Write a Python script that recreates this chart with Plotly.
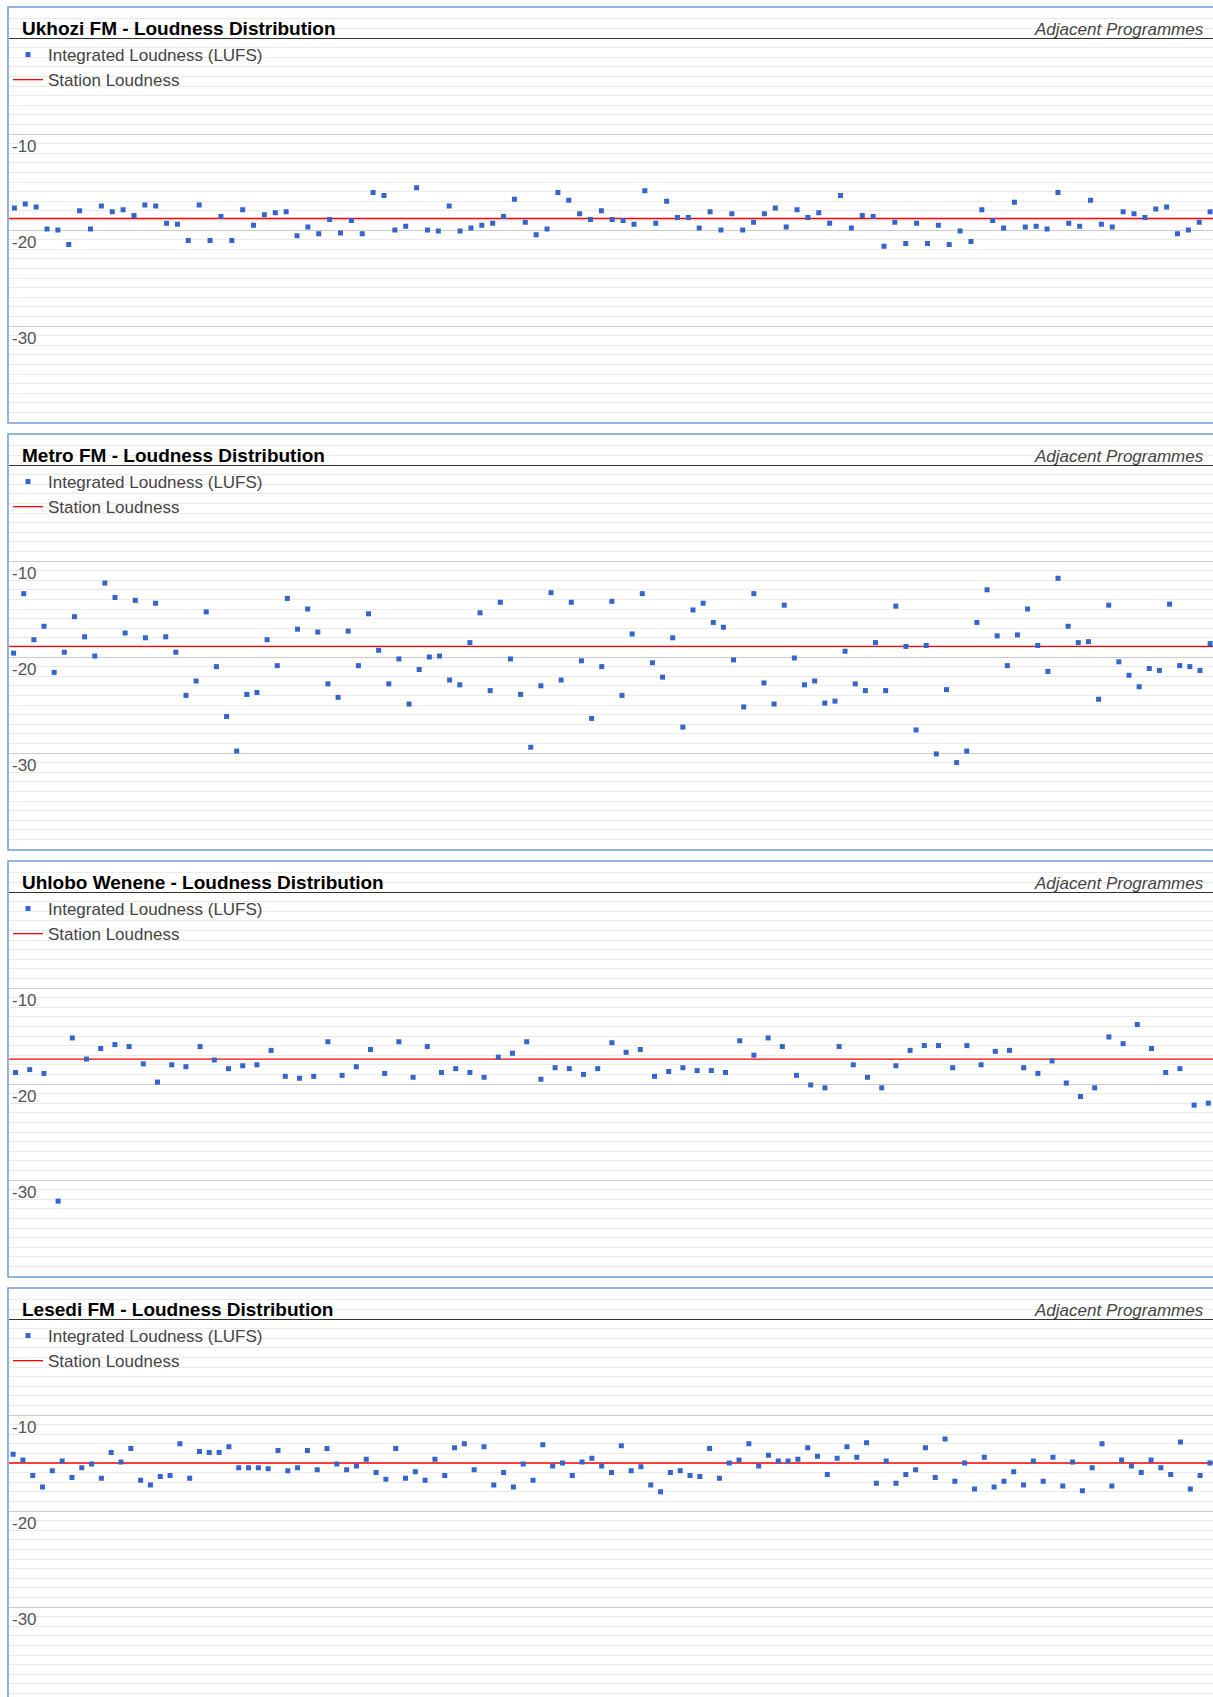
import plotly.graph_objects as go

# ---------------- data ----------------
stations = ["Ukhozi FM", "Metro FM", "Uhlobo Wenene", "Lesedi FM"]
title_suffix = " - Loudness Distribution"
subtitle = "Adjacent Programmes"
series_name = "Integrated Loudness (LUFS)"
line_name = "Station Loudness"

ukhozi_lufs = [
    -17.7, -17.3, -17.6, -19.9, -20.0, -21.5, -18.0, -19.9, -17.5, -18.1,
    -17.9, -18.5, -17.4, -17.5, -19.3, -19.4, -21.1, -17.4, -21.1, -18.6,
    -21.1, -17.9, -19.5, -18.4, -18.2, -18.1, -20.6, -19.7, -20.4, -18.9,
    -20.3, -19.0, -20.4, -16.1, -16.4, -20.0, -19.6, -15.6, -20.0, -20.1,
    -17.5, -20.1, -19.8, -19.5, -19.3, -18.6, -16.8, -19.2, -20.5, -19.9,
    -16.1, -16.9, -18.3, -18.9, -18.0,
    -18.9, -19.0, -19.4, -15.9, -19.3, -17.0, -18.7, -18.7, -19.8, -18.1,
    -20.0, -18.3, -20.0, -19.2, -18.3, -17.7, -19.7, -17.9, -18.7, -18.2,
    -19.3, -16.4, -19.8, -18.5, -18.6, -21.7, -19.2, -21.4, -19.3, -21.4,
    -19.5, -21.5, -20.1, -21.2, -17.9, -19.0, -19.8, -17.1, -19.7, -19.6,
    -19.9, -16.1, -19.3, -19.6, -16.9, -19.4, -19.7, -18.1, -18.3, -18.7,
    -17.8, -17.6, -20.4, -20.0, -19.2, -18.1,
]

metro_lufs = [
    -19.6, -13.4, -18.2, -16.8, -21.6, -19.5, -15.8, -17.9, -19.9, -12.3,
    -13.8, -17.5, -14.1, -18.0, -14.4, -17.9, -19.5, -24.0, -22.5, -15.3,
    -21.0, -26.2, -29.8, -23.9, -23.7, -18.2, -20.9, -13.9, -17.1, -15.0,
    -17.4, -22.8, -24.2, -17.3, -20.9, -15.5, -19.3, -22.8, -20.2, -24.9,
    -21.3, -20.0, -19.9, -22.4, -22.9, -18.5, -15.4, -23.5, -14.3, -20.2,
    -23.9, -29.4, -23.0, -13.3, -22.4, -14.3, -20.4, -26.4, -21.0,
    -14.2, -24.0, -17.6, -13.4, -20.6, -22.1, -18.0, -27.3, -15.1, -14.4,
    -16.4, -16.9, -20.3, -25.2, -13.4, -22.7, -24.9, -14.6, -20.1, -22.9,
    -22.5, -24.8, -24.6, -19.4, -22.8, -23.5, -18.5, -23.5, -14.7, -18.9,
    -27.6, -18.8, -30.1, -23.4, -31.0, -29.8, -16.4, -13.0, -17.8, -20.9,
    -17.7, -15.0, -18.8, -21.5, -11.8, -16.8, -18.5, -18.4, -24.4, -14.6,
    -20.5, -21.9, -23.1, -21.2, -21.4, -14.5, -20.9, -21.0, -21.4, -18.6,
]

uhlobo_lufs = [
    -18.8, -18.5, -18.9, -32.2, -15.2, -17.4, -16.3, -15.9, -16.1, -17.9,
    -19.8, -18.0, -18.2, -16.1, -17.5, -18.4, -18.1, -18.0, -16.5, -19.2,
    -19.4, -19.2, -15.6, -19.1, -18.2, -16.4, -18.9, -15.6, -19.3, -16.1,
    -18.8, -18.4, -18.8, -19.3, -17.2, -16.8, -15.6, -19.5, -18.3, -18.4,
    -19.0, -18.4, -15.7, -16.7, -16.4, -19.2, -18.7, -18.3, -18.6, -18.6,
    -18.8, -15.5, -17.0, -15.2, -16.1, -19.1, -20.1, -20.4, -16.1, -18.0,
    -19.3, -20.4, -18.1, -16.5, -16.0, -16.0, -18.3, -16.0, -18.0, -16.6,
    -16.5, -18.3, -18.9, -17.6, -19.9, -21.3, -20.4, -15.1, -15.8, -13.8,
    -16.3, -18.8, -18.4, -22.2, -22.0,
]

lesedi_lufs = [
    -14.1, -14.7, -16.3, -17.5, -15.8, -14.8, -16.5, -15.5, -15.1, -16.6,
    -13.9, -14.9, -13.5, -16.8, -17.3, -16.4, -16.3, -13.0, -16.6, -13.8,
    -13.9, -13.9, -13.3, -15.5, -15.5, -15.5, -15.6, -13.7, -15.8, -15.5,
    -13.7, -15.7, -13.5, -15.1, -15.7, -15.3, -14.6, -16.0, -16.7, -13.5,
    -16.6, -15.9, -16.8, -14.6, -16.3, -13.4, -13.0, -15.7, -13.3, -17.3,
    -16.0, -17.5, -15.1, -16.8, -13.1, -15.3, -15.0, -16.3, -14.9, -14.5,
    -15.3, -16.0, -13.2, -15.8, -15.4, -17.3, -18.0, -16.0, -15.8, -16.3,
    -16.4, -13.5, -16.6, -15.0, -14.7, -13.0, -15.3, -14.2, -14.8, -14.8,
    -14.6, -13.4, -14.3, -16.2, -14.5, -13.3, -14.4, -12.9, -17.1, -14.8,
    -17.1, -16.2, -15.7, -13.4, -16.5, -12.5, -16.9, -15.0, -17.7, -14.4,
    -17.5, -16.9, -15.9, -17.3, -14.8, -16.9, -14.4, -17.4, -14.9, -17.9,
    -15.5, -13.0, -17.4, -14.7, -15.3, -16.0, -14.7, -15.5, -16.2, -12.8,
    -17.7, -16.3, -15.0,
]

station_loudness = [-18.8, -18.9, -17.4, -15.0]
y_tick_vals = [-10, -20, -30]
y_tick_text = ["-10", "-20", "-30"]

series = [ukhozi_lufs, metro_lufs, uhlobo_lufs, lesedi_lufs]

# ---------------- layout constants (pixels) ----------------
W, H = 1213, 1697
STEP = 427            # vertical distance between panels
ZERO_PX = 38          # pixel row of 0 LUFS in the first panel
PPU = 9.6             # pixels per LU
Y_TOP, Y_BOT = 3, -40
PLOT_LEFT = 9
first_px = [14.4, 13.6, 15.5, 13.1]
spacing_px = [10.87, 10.14, 14.2, 9.81]

FONT = "Arial, 'Liberation Sans', sans-serif"
BLUE = "#3366cc"
RED = "#ff0000"

fig = go.Figure()
shapes, annotations = [], []

for k, (name, vals) in enumerate(zip(stations, series)):
    s = "" if k == 0 else str(k + 1)
    zero = ZERO_PX + STEP * k
    top_px = zero - PPU * Y_TOP
    bot_px = min(zero - PPU * Y_BOT, H)
    y_bottom_val = (zero - bot_px) / PPU
    n = len(vals)
    xs = list(range(n))
    r0 = -(first_px[k] - PLOT_LEFT) / spacing_px[k]
    r1 = r0 + (W - PLOT_LEFT) / spacing_px[k]

    legend_id = "legend" + s
    fig.add_trace(go.Scatter(
        x=[-1, n], y=[station_loudness[k]] * 2, mode="lines",
        line=dict(color=RED, width=1.3), name=line_name,
        xaxis="x" + s, yaxis="y" + s, legend=legend_id, hoverinfo="skip"))
    fig.add_trace(go.Scatter(
        x=xs, y=vals, mode="markers",
        marker=dict(symbol="square", size=5, color=BLUE, line=dict(width=0)),
        name=series_name, xaxis="x" + s, yaxis="y" + s, legend=legend_id))

    fig.layout["xaxis" + s] = dict(
        domain=[PLOT_LEFT / W, 1], range=[r0, r1], visible=False,
        anchor="y" + s, fixedrange=True)
    fig.layout["yaxis" + s] = dict(
        domain=[1 - bot_px / H, 1 - top_px / H], range=[y_bottom_val, Y_TOP],
        anchor="x" + s, tickvals=y_tick_vals, ticktext=y_tick_text,
        ticklabelposition="inside", ticklabelshift=12, ticklabelstandoff=0,
        ticks="", showline=False,
        tickfont=dict(family=FONT, size=17, color="#555555"),
        showgrid=True, gridcolor="#cccccc", gridwidth=1,
        minor=dict(dtick=1, tick0=0, showgrid=True, gridcolor="#ebebeb", gridwidth=1),
        zeroline=True, zerolinecolor="#333333", zerolinewidth=1, fixedrange=True)
    fig.layout[legend_id] = dict(
        x=8 / W, y=1 - (37 + STEP * k) / H, xanchor="left", yanchor="top",
        bgcolor="rgba(0,0,0,0)", traceorder="reversed",
        font=dict(family=FONT, size=17, color="#444444"))

    # panel border (right side runs off the page)
    shapes.append(dict(
        type="rect", xref="paper", yref="paper", layer="above",
        x0=8 / W, x1=1.05, y0=1 - (423 + STEP * k) / H, y1=1 - (7 + STEP * k) / H,
        line=dict(color="#6f9fd8", width=1.5), fillcolor="rgba(0,0,0,0)"))
    annotations.append(dict(
        xref="paper", yref="paper", x=20 / W, y=1 - (28.5 + STEP * k) / H,
        xanchor="left", yanchor="middle", showarrow=False,
        text="<b>" + name + title_suffix + "</b>",
        font=dict(family=FONT, size=19, color="#000000")))
    annotations.append(dict(
        xref="paper", yref="paper", x=1206 / W, y=1 - (29.5 + STEP * k) / H,
        xanchor="right", yanchor="middle", showarrow=False,
        text="<i>" + subtitle + "</i>",
        font=dict(family=FONT, size=17, color="#444444")))

fig.update_layout(
    width=W, height=H, autosize=False,
    margin=dict(l=0, r=0, t=0, b=0, pad=0),
    paper_bgcolor="white", plot_bgcolor="white",
    shapes=shapes, annotations=annotations, showlegend=True,
    hovermode="closest")

fig.write_html("out.html", config={"displayModeBar": False},
               post_script="document.body.style.margin='0';document.body.style.overflow='hidden';")
